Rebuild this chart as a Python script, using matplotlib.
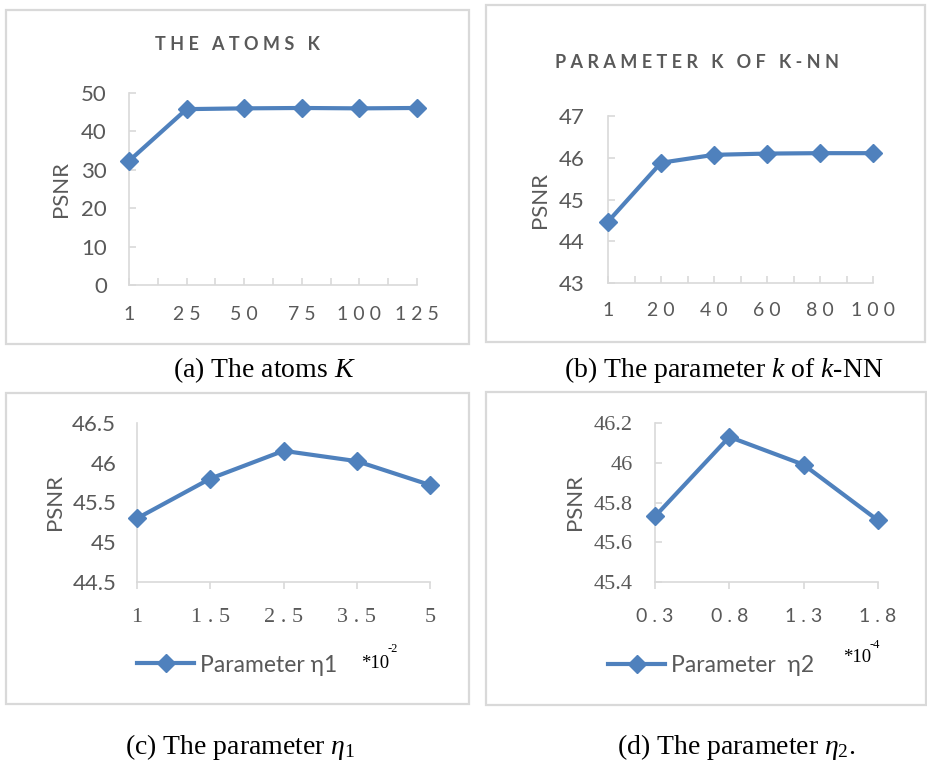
import matplotlib
matplotlib.use("Agg")
import matplotlib.pyplot as plt
from matplotlib.patches import Rectangle

plt.rcParams['mathtext.fontset'] = 'custom'
plt.rcParams['mathtext.rm'] = 'Liberation Serif'
plt.rcParams['mathtext.it'] = 'Liberation Serif:italic'

W, H = 927, 765
BLUE = '#4F81BD'
GRAY = '#595959'
LGRAY = '#D9D9D9'
SANS = ['Lato', 'DejaVu Sans']
SERIF = ['Liberation Serif', 'DejaVu Serif']

# ---------------- data ----------------
a_labels = ['1', '25', '50', '75', '100', '125']
a_psnr = [32.3, 45.8, 46.0, 46.1, 46.0, 46.1]
b_labels = ['1', '20', '40', '60', '80', '100']
b_psnr = [44.47, 45.88, 46.07, 46.10, 46.11, 46.11]
c_labels = ['1', '1.5', '2.5', '3.5', '5']
c_psnr = [45.30, 45.80, 46.15, 46.02, 45.72]
d_labels = ['0.3', '0.8', '1.3', '1.8']
d_psnr = [45.73, 46.13, 45.99, 45.71]

fig = plt.figure(figsize=(W / 100, H / 100), dpi=100)


def frame(x0, y0, x1, y1):
    fig.patches.append(Rectangle((x0 / W, 1 - y1 / H), (x1 - x0) / W, (y1 - y0) / H,
                                 transform=fig.transFigure, fill=False,
                                 edgecolor=LGRAY, lw=1.6))


def axes_px(x0, y0, x1, y1):
    return fig.add_axes([x0 / W, 1 - y1 / H, (x1 - x0) / W, (y1 - y0) / H])


def spaced(s):
    return ' '.join(s)


def style(ax, labels, ylim, yticks, ypad, xpad, xfont, yfont, xsize, ysize,
          xdir='in', ydir='in', minor=True):
    for s in ['top', 'right']:
        ax.spines[s].set_visible(False)
    for s in ['left', 'bottom']:
        ax.spines[s].set_color(LGRAY)
        ax.spines[s].set_linewidth(1.2)
    n = len(labels)
    ax.set_xlim(0, n - 1)
    ax.set_ylim(*ylim)
    ax.set_xticks(range(n))
    ax.set_xticklabels([spaced(l) for l in labels], family=xfont, fontsize=xsize, color=GRAY)
    if minor:
        ax.set_xticks([i + 0.5 for i in range(n - 1)], minor=True)
    ax.set_yticks(yticks)
    ax.set_yticklabels(['%g' % v for v in yticks], family=yfont, fontsize=ysize, color=GRAY)
    ax.tick_params(axis='x', which='both', direction=xdir, length=5, width=1.2,
                   color=LGRAY, pad=xpad)
    ax.tick_params(axis='y', direction=ydir if ydir else 'in', length=5 if ydir else 0,
                   width=1.2, color=LGRAY, pad=ypad)
    ax.patch.set_alpha(0)


def plot_line(ax, vals, label=None):
    ax.plot(range(len(vals)), vals, color=BLUE, lw=3, marker='D', markersize=9.5,
            clip_on=False, zorder=5, label=label)


# ---------- frames ----------
frame(6, 10, 469, 344)
frame(486, 5, 925, 342)
frame(6, 393, 469, 704)
frame(486, 392, 926, 705)

# ---------- (a) ----------
axa = axes_px(129, 93, 417, 285)
plot_line(axa, a_psnr)
style(axa, a_labels, (0, 50), [0, 10, 20, 30, 40, 50], 16, 15, SANS, SANS, 14, 16)
axa.set_ylabel('PSNR', family=SANS, fontsize=16, color=GRAY, labelpad=7)
fig.text(237 / W, 1 - 44 / H, 'T H E   A T O M S   K', family=SANS, fontsize=13,
         fontweight='bold', color=GRAY, ha='center', va='center')
fig.text(264 / W, 1 - 370 / H, '(a) The atoms $K$', family=SERIF, fontsize=20,
         color='black', ha='center', va='center')

# ---------- (b) ----------
axb = axes_px(608, 116, 873, 283)
plot_line(axb, b_psnr)
style(axb, b_labels, (43, 47), [43, 44, 45, 46, 47], 17, 14, SANS, SANS, 14, 16)
axb.set_ylabel('PSNR', family=SANS, fontsize=16, color=GRAY, labelpad=6)
fig.text(697 / W, 1 - 62 / H, 'P A R A M E T E R   K   O F   K - N N', family=SANS,
         fontsize=13, fontweight='bold', color=GRAY, ha='center', va='center')
fig.text(724 / W, 1 - 370 / H, '(b) The parameter $k$ of $k$-NN', family=SERIF,
         fontsize=20, color='black', ha='center', va='center')

# ---------- (c) ----------
axc = axes_px(137, 423, 430, 582)
plot_line(axc, c_psnr, label='Parameter η1')
style(axc, c_labels, (44.5, 46.5), [44.5, 45, 45.5, 46, 46.5], 15, 14, SERIF, SANS,
      16, 16, xdir='out', ydir=None, minor=False)
axc.set_ylabel('PSNR', family=SANS, fontsize=16, color=GRAY, labelpad=5)
leg = axc.legend(loc='center left', bbox_to_anchor=(137 / W, 1 - 665 / H),
                 bbox_transform=fig.transFigure, frameon=False, borderpad=0,
                 borderaxespad=0, handlelength=2.5, handletextpad=0.25,
                 prop={'family': SANS, 'size': 16.5})
for t in leg.get_texts():
    t.set_color(GRAY)
fig.text(361 / W, 1 - 663 / H, '*10', family=SERIF, fontsize=13.5, color='black',
         ha='left', va='center')
fig.text(388 / W, 1 - 649 / H, '-2', family=SERIF, fontsize=9, color='black',
         ha='left', va='center')
fig.text(240 / W, 1 - 747 / H, r'(c) The parameter $\eta_1$', family=SERIF, fontsize=20,
         color='black', ha='center', va='center')

# ---------- (d) ----------
axd = axes_px(655, 423, 878, 582)
plot_line(axd, d_psnr, label='Parameter  η2')
style(axd, d_labels, (45.4, 46.2), [45.4, 45.6, 45.8, 46.0, 46.2], 16, 14, SANS, SERIF,
      14, 16, xdir='out', minor=False)
axd.set_ylabel('PSNR', family=SANS, fontsize=16, color=GRAY, labelpad=6)
leg = axd.legend(loc='center left', bbox_to_anchor=(608 / W, 1 - 666 / H),
                 bbox_transform=fig.transFigure, frameon=False, borderpad=0,
                 borderaxespad=0, handlelength=2.5, handletextpad=0.25,
                 prop={'family': SANS, 'size': 16.5})
for t in leg.get_texts():
    t.set_color(GRAY)
fig.text(843 / W, 1 - 657 / H, '*10', family=SERIF, fontsize=13.5, color='black',
         ha='left', va='center')
fig.text(870 / W, 1 - 645 / H, '-4', family=SERIF, fontsize=9, color='black',
         ha='left', va='center')
fig.text(736 / W, 1 - 747 / H, r'(d) The parameter $\eta_2$.', family=SERIF, fontsize=20,
         color='black', ha='center', va='center')

fig.savefig('out.png', dpi=100)
